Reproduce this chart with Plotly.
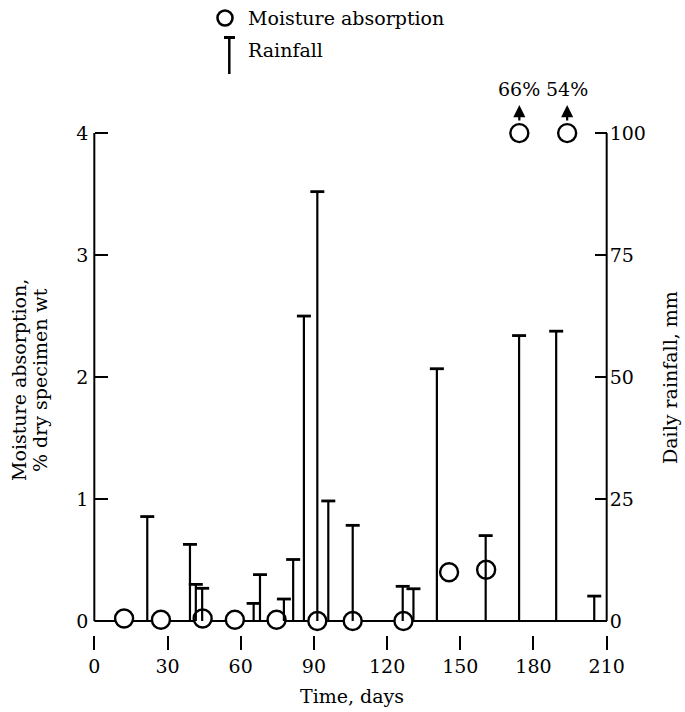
import plotly.graph_objects as go
import numpy as np

# ---------------- data ----------------
rain_days = [21.7, 39.2, 41.6, 44.2, 65.3, 67.9, 77.7, 81.5, 85.9, 91.4, 95.9,
             105.9, 126.4, 130.8, 140.4, 160.4, 174.1, 189.3, 204.9]
rain_mm = [21.4, 15.7, 7.5, 6.7, 3.6, 9.5, 4.5, 12.6, 62.5, 88.0, 24.6,
           19.6, 7.1, 6.6, 51.7, 17.5, 58.5, 59.4, 5.1]

moist_days = [12.2, 27.3, 44.4, 57.6, 74.7, 91.4, 105.9, 126.7, 145.4, 160.6, 174.2, 193.8]
moist_pct = [0.02, 0.01, 0.02, 0.01, 0.01, 0.0, 0.0, 0.0, 0.40, 0.42, 66, 54]
moist_axis_max = 4

x_ticks = [0, 30, 60, 90, 120, 150, 180, 210]
left_ticks = [0, 1, 2, 3, 4]
right_ticks = [0, 25, 50, 75, 100]

FONT = "DejaVu Serif"
FS = 19
W, H = 685, 712
ML, MR, MT, MB = 87, 71, 127, 77
PW, PH = W - ML - MR, H - MT - MB
XR = [-3, 213]
YR = [-0.115, 4.05]
Y2R = [YR[0] * 25, YR[1] * 25]


def px(xp):
    return (xp - ML) / PW


def py(yp):
    return (H - MB - yp) / PH


fig = go.Figure()

# rainfall stems
sx, sy = [], []
for d, v in zip(rain_days, rain_mm):
    sx += [d, d, None]
    sy += [0, v, None]
fig.add_trace(go.Scatter(x=sx, y=sy, mode="lines", yaxis="y2",
                         line=dict(color="black", width=2.2), hoverinfo="skip",
                         showlegend=False))
fig.add_trace(go.Scatter(x=rain_days, y=rain_mm, mode="markers", yaxis="y2",
                         marker=dict(symbol="line-ew", size=10,
                                     line=dict(color="black", width=2.8)),
                         showlegend=False, cliponaxis=False))

# moisture absorption circles
mplot = list(np.minimum(np.array(moist_pct, dtype=float), moist_axis_max))
fig.add_trace(go.Scatter(x=moist_days, y=mplot, mode="markers", yaxis="y",
                         marker=dict(symbol="circle", size=18, color="white",
                                     line=dict(color="black", width=2.4)),
                         showlegend=False, cliponaxis=False))

shapes = []
# axis frame lines
shapes.append(dict(type="line", xref="x", yref="y", x0=0, x1=0, y0=0, y1=4,
                   line=dict(color="black", width=2), layer="below"))
shapes.append(dict(type="line", xref="x", yref="y", x0=0, x1=210, y0=0, y1=0,
                   line=dict(color="black", width=2), layer="below"))
shapes.append(dict(type="line", xref="x", yref="y", x0=210, x1=210, y0=0, y1=4,
                   line=dict(color="black", width=2), layer="below"))

# legend
shapes.append(dict(type="circle", xref="paper", yref="paper",
                   x0=px(217.5), x1=px(232.5), y0=py(25.5), y1=py(10.5),
                   line=dict(color="black", width=2.6), fillcolor="white"))
shapes.append(dict(type="line", xref="paper", yref="paper",
                   x0=px(229.3), x1=px(229.3), y0=py(37), y1=py(74),
                   line=dict(color="black", width=2.5)))
shapes.append(dict(type="line", xref="paper", yref="paper",
                   x0=px(224), x1=px(235), y0=py(37.5), y1=py(37.5),
                   line=dict(color="black", width=3)))

annotations = [
    dict(text="Moisture absorption", xref="paper", yref="paper", x=px(246), y=py(18),
         xanchor="left", yanchor="middle", showarrow=False, font=dict(size=FS)),
    dict(text="Rainfall", xref="paper", yref="paper", x=px(246), y=py(50),
         xanchor="left", yanchor="middle", showarrow=False, font=dict(size=FS)),
    dict(text="Time, days", xref="paper", yref="paper", x=px(352), y=py(696),
         xanchor="center", yanchor="middle", showarrow=False, font=dict(size=FS)),
    dict(text="Moisture absorption,", xref="paper", yref="paper", x=px(19), y=py(380),
         xanchor="center", yanchor="middle", textangle=-90, showarrow=False,
         font=dict(size=FS)),
    dict(text="% dry specimen wt", xref="paper", yref="paper", x=px(40), y=py(380),
         xanchor="center", yanchor="middle", textangle=-90, showarrow=False,
         font=dict(size=FS)),
    dict(text="Daily rainfall, mm", xref="paper", yref="paper", x=px(670), y=py(378),
         xanchor="center", yanchor="middle", textangle=-90, showarrow=False,
         font=dict(size=FS)),
]

# off-scale markers: arrows and value labels
for d, v in zip(moist_days, moist_pct):
    if v > moist_axis_max:
        annotations.append(dict(x=d, y=moist_axis_max, xref="x", yref="y", text="",
                                showarrow=True, ax=0, ay=17, yshift=28,
                                arrowhead=2, arrowsize=1.1, arrowwidth=2.2,
                                arrowcolor="black"))
        annotations.append(dict(x=d, y=moist_axis_max, xref="x", yref="y",
                                text=f"{v:g}%", showarrow=False, yshift=44,
                                font=dict(size=FS)))

fig.update_layout(
    width=W, height=H,
    margin=dict(l=ML, r=MR, t=MT, b=MB, autoexpand=False),
    plot_bgcolor="white", paper_bgcolor="white",
    font=dict(family=FONT, color="black", size=FS),
    showlegend=False,
    shapes=shapes, annotations=annotations,
    xaxis=dict(range=XR, tickvals=x_ticks, ticks="outside", ticklen=14,
               tickwidth=1.8, tickcolor="black", showline=False, showgrid=False,
               zeroline=False, tickfont=dict(size=FS)),
    yaxis=dict(range=YR, tickvals=left_ticks, ticks="inside", ticklen=13,
               tickwidth=1.8, tickcolor="black", showline=False, showgrid=False,
               zeroline=False, anchor="free", position=(0 - XR[0]) / (XR[1] - XR[0]),
               tickfont=dict(size=FS), ticklabelstandoff=6),
    yaxis2=dict(range=Y2R, tickvals=right_ticks, ticks="inside", ticklen=12,
                tickwidth=1.8, tickcolor="black", showline=False, showgrid=False,
                zeroline=False, overlaying="y", side="right", anchor="free",
                position=(210 - XR[0]) / (XR[1] - XR[0]), tickfont=dict(size=FS),
                ticklabelstandoff=2),
)

fig.write_html("out.html")
